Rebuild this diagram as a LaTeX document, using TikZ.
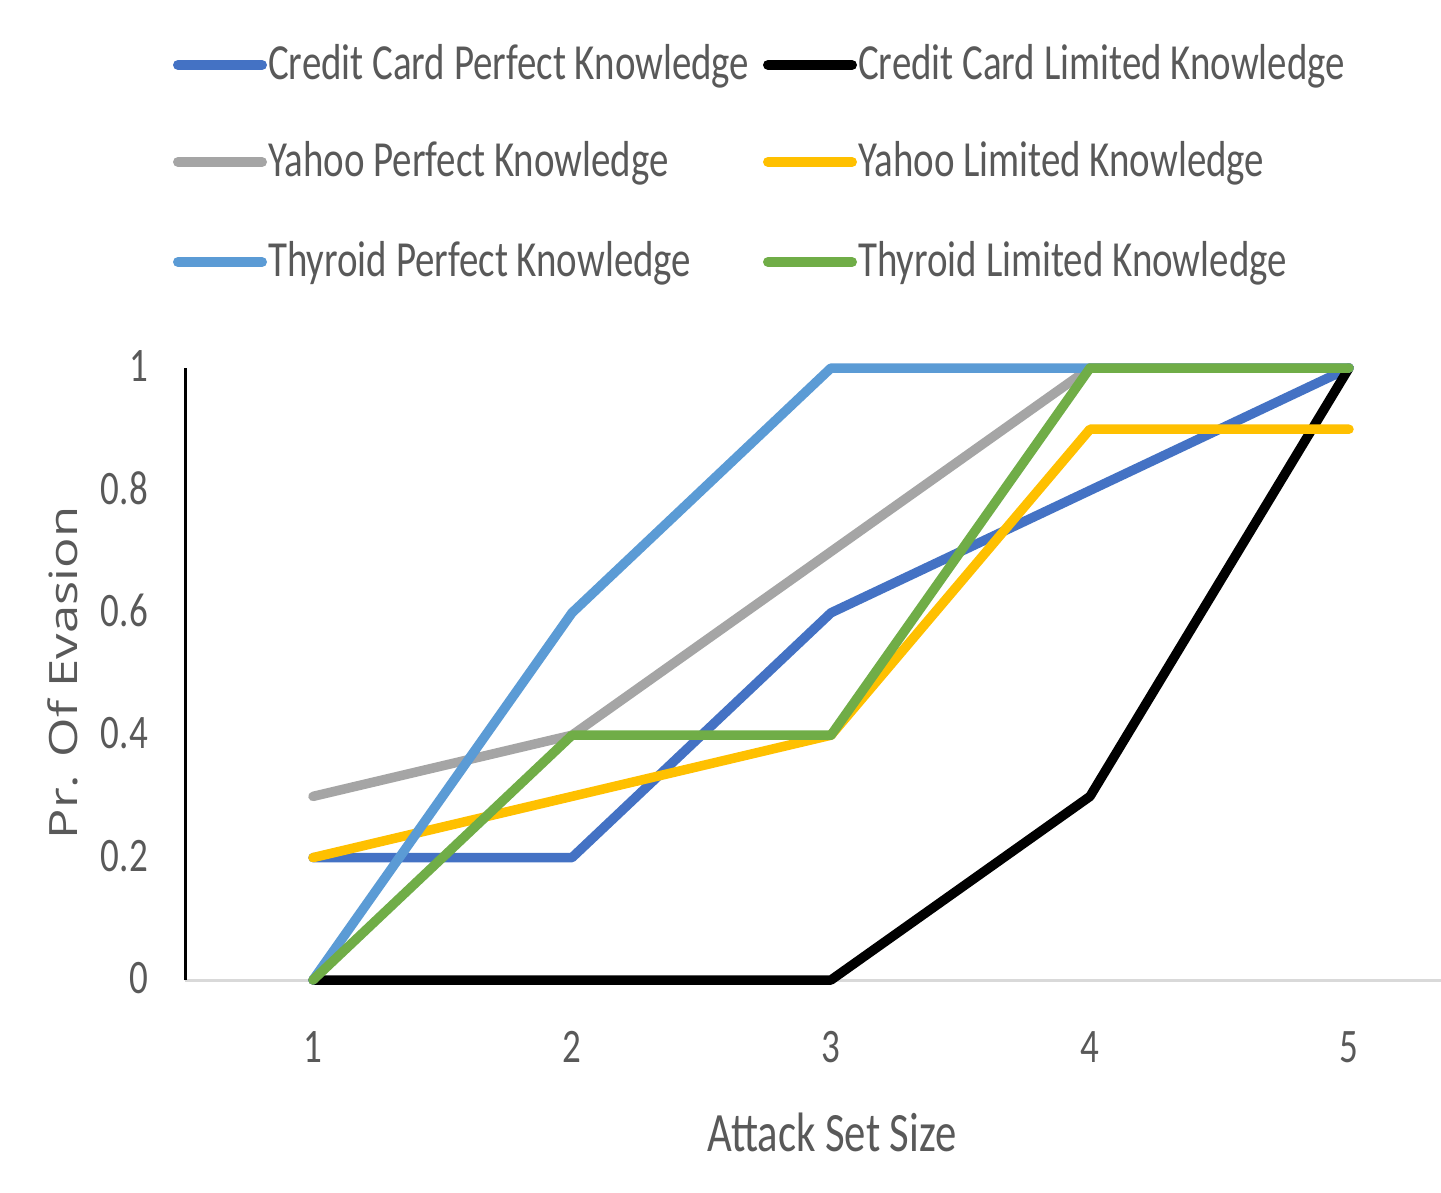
\documentclass[tikz,border=0pt]{standalone}
\usepackage{graphicx}
\usepackage{fontspec}
\setmainfont{Carlito}
\newfontfamily\labfont{Open Sans}
\definecolor{ccpk}{HTML}{4472C4}
\definecolor{cclk}{HTML}{000000}
\definecolor{yhpk}{HTML}{A5A5A5}
\definecolor{yhlk}{HTML}{FFC000}
\definecolor{thpk}{HTML}{5B9BD5}
\definecolor{thlk}{HTML}{70AD47}
\definecolor{txt}{HTML}{595959}
\newcommand\vstretch[1]{\scalebox{1}[1.3]{#1}}
\begin{document}
\begin{tikzpicture}[x=1pt,y=-1pt,
  series/.style={line width=9.5pt,line cap=round,line join=round},
  legtext/.style={anchor=west,inner sep=0pt,text=txt,font=\fontsize{38.9}{40}\selectfont},
  ticklab/.style={inner sep=0pt,text=txt,font=\fontsize{37}{40}\selectfont},
  legline/.style={line width=10pt,line cap=round}]
\useasboundingbox[fill=white] (0,0) rectangle (1441,1193);
% legend
\coordinate (l1a) at (178,65); \coordinate (l1b) at (262,65);
\coordinate (l2a) at (768,65); \coordinate (l2b) at (852,65);
\coordinate (l3a) at (178,162); \coordinate (l3b) at (262,162);
\coordinate (l4a) at (768,162); \coordinate (l4b) at (852,162);
\coordinate (l5a) at (178,262); \coordinate (l5b) at (262,262);
\coordinate (l6a) at (768,262); \coordinate (l6b) at (852,262);
\draw[legline,ccpk] (l1a) -- (l1b);
\draw[legline,cclk] (l2a) -- (l2b);
\draw[legline,yhpk] (l3a) -- (l3b);
\draw[legline,yhlk] (l4a) -- (l4b);
\draw[legline,thpk] (l5a) -- (l5b);
\draw[legline,thlk] (l6a) -- (l6b);
\node[legtext] (t1) at (268,66) {\vstretch{Credit Card Perfect Knowledge}};
\node[legtext] (t2) at (858,66) {\vstretch{Credit Card Limited Knowledge}};
\node[legtext] (t3) at (268,163) {\vstretch{Yahoo Perfect Knowledge}};
\node[legtext] (t4) at (858,163) {\vstretch{Yahoo Limited Knowledge}};
\node[legtext] (t5) at (268,263) {\vstretch{Thyroid Perfect Knowledge}};
\node[legtext] (t6) at (858,263) {\vstretch{Thyroid Limited Knowledge}};
% axes
\coordinate (xa) at (185,980); \coordinate (xb) at (1441,980);
\coordinate (ya) at (185,368);
\draw[line width=3pt,color=black!15] (xa) -- (xb);
\draw[line width=3pt,black] (xa) -- (ya);
% tick labels
\foreach \v/\l in {0/0,0.2/0.2,0.4/0.4,0.6/0.6,0.8/0.8,1/1}
  \node[ticklab,anchor=east] (yt\l) at (148,{978-612*\v}) {\vstretch{\l}};
\foreach \i in {1,...,5}
  \node[ticklab] (xt\i) at ({313+259*(\i-1)},1047) {\vstretch{\i}};
\node[text=txt,inner sep=0pt,anchor=base,font=\fontsize{42.7}{44}\selectfont] (xtitle) at (832,1151) {\vstretch{Attack Set Size}};
\node[text=txt,inner sep=0pt,rotate=90,font=\labfont\fontsize{39}{42}\selectfont] (ytitle) at (63,673) {\scalebox{1.3}[1]{Pr. Of Evasion}};
% data
\begin{scope}[shift={(313,980)},x=259pt,y=612pt]
\draw[series,ccpk] (0,0.2) -- (1,0.2) -- (2,0.6) -- (3,0.8) -- (4,1);
\draw[series,cclk] (0,0) -- (1,0) -- (2,0) -- (3,0.3) -- (4,1);
\draw[series,yhpk] (0,0.3) -- (1,0.4) -- (2,0.7) -- (3,1) -- (4,1);
\draw[series,yhlk] (0,0.2) -- (1,0.3) -- (2,0.4) -- (3,0.9) -- (4,0.9);
\draw[series,thpk] (0,0) -- (1,0.6) -- (2,1) -- (3,1) -- (4,1);
\draw[series,thlk] (0,0) -- (1,0.4) -- (2,0.4) -- (3,1) -- (4,1);
\end{scope}
\end{tikzpicture}
\end{document}
